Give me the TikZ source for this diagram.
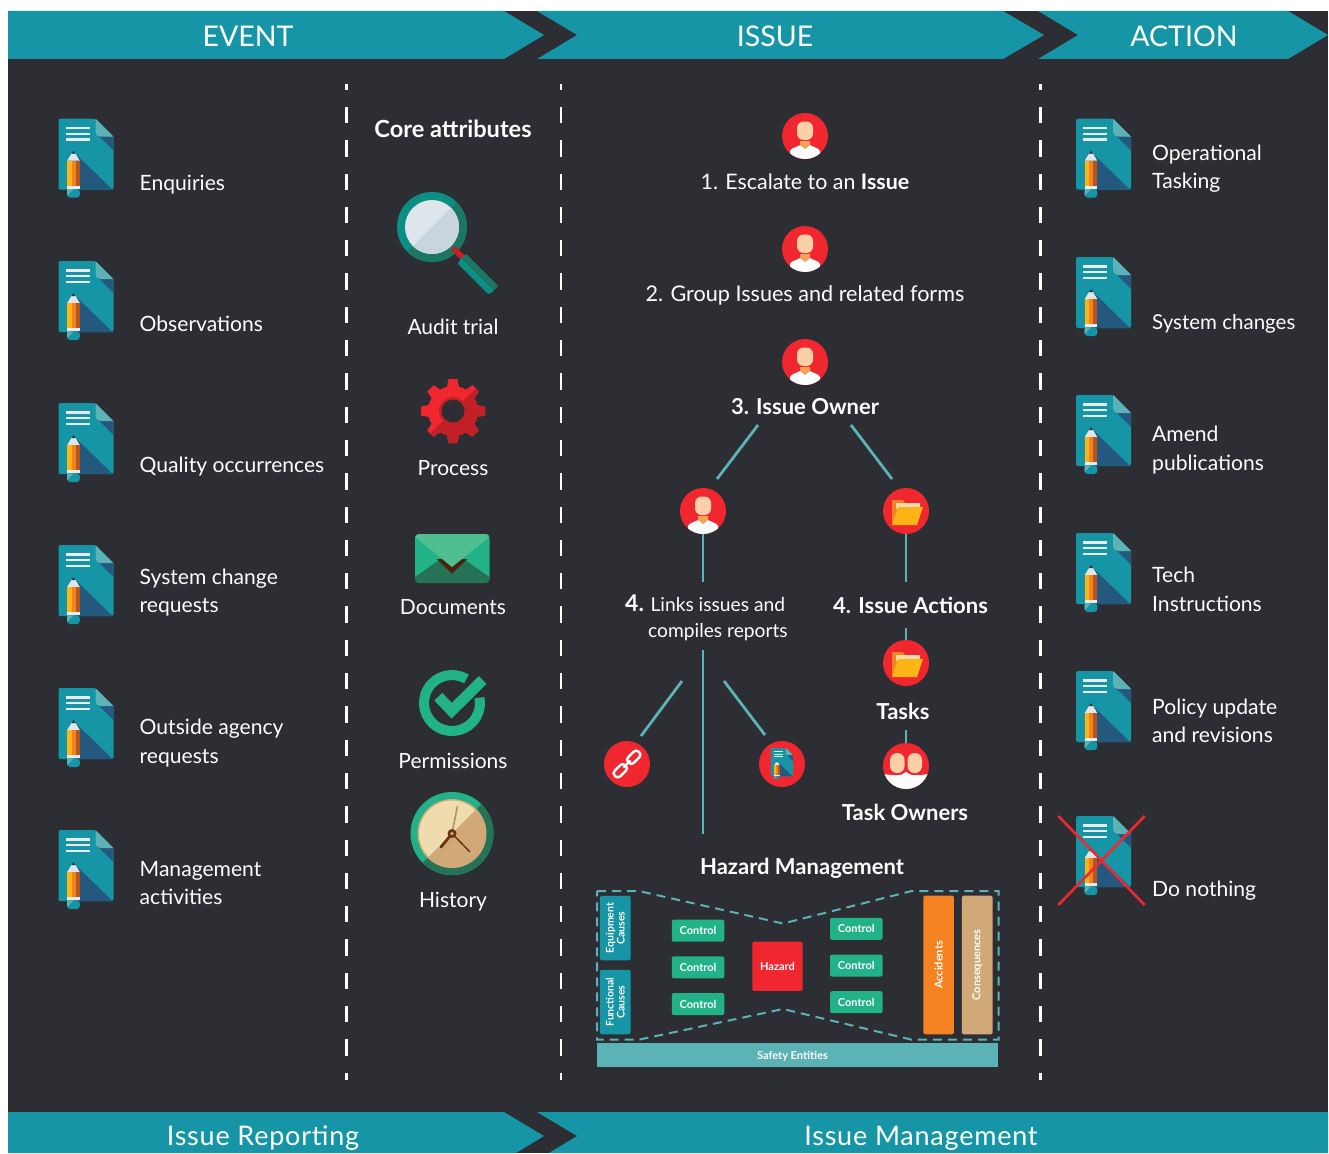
\documentclass[tikz,border=0pt]{standalone}
\usepackage{fontspec}
\setmainfont{Lato}
\usetikzlibrary{positioning}
\definecolor{panelbg}{HTML}{2C2E33}
\definecolor{bannerteal}{HTML}{1595A6}
\definecolor{softteal}{HTML}{5BB3B5}
\definecolor{deepblue}{HTML}{24587F}
\definecolor{alertred}{HTML}{F1272F}
\definecolor{darkred}{HTML}{C12026}
\definecolor{ctrlgreen}{HTML}{22B287}
\definecolor{darkgreen}{HTML}{267256}
\definecolor{lightgreen}{HTML}{4FBF8F}
\definecolor{sand}{HTML}{D1A877}
\definecolor{cream}{HTML}{EFDCAE}
\definecolor{pencilyel}{HTML}{FDB515}
\definecolor{pencilorg}{HTML}{F58220}
\definecolor{pencilbrn}{HTML}{B5561F}
\definecolor{skin}{HTML}{FBD0A8}
\newcommand{\bodyfont}{\fontsize{21.1}{28.4}\selectfont}
\newcommand{\gearteeth}{%
  \fill (453,411) circle (25);
  \foreach \a in {0,45,...,315}
    \fill[rotate around={\a:(453,411)}] (448.5,379) -- (457.5,379) -- (460,392) -- (446,392) -- cycle;}
\tikzset{
  banner/.style={fill=bannerteal},
  bannertext/.style={text=white,font=\fontsize{28.5}{28.5}\selectfont},
  footertext/.style={text=white,anchor=base,inner sep=0pt,font=\fontsize{27}{27}\selectfont\addfontfeature{LetterSpace=2.85}},
  sidelabel/.style={text=white,anchor=west,align=left,inner sep=0pt,font=\bodyfont},
  corelabel/.style={text=white,inner sep=0pt,font=\fontsize{21}{21}\selectfont},
  steplabel/.style={text=white,inner sep=0pt,font=\fontsize{22}{22}\selectfont\bfseries},
  plainstep/.style={text=white,inner sep=0pt,font=\fontsize{21.4}{21.4}\selectfont},
  divider/.style={white,line width=2.3pt,dash pattern=on 16.3pt off 17pt,dash phase=10.4pt},
  conn/.style={softteal,line width=2.8pt},
  redball/.style={circle,fill=alertred,minimum size=46pt,inner sep=0pt},
  ctrlbox/.style={fill=ctrlgreen,rounded corners=2pt,minimum width=52.5pt,minimum height=22pt,inner sep=0pt,text=white,font=\fontsize{11}{11}\selectfont\bfseries},
  causebox/.style={fill=bannerteal,rounded corners=2pt,minimum width=64.5pt,minimum height=30.7pt,inner sep=0pt,rotate=90,text=white,align=center,font=\fontsize{10.5}{11}\selectfont\bfseries},
  tallbox/.style={rounded corners=2pt,minimum width=138.6pt,minimum height=30.7pt,inner sep=0pt,rotate=90,text=white,font=\fontsize{11}{11}\selectfont\bfseries},
  docicon/.pic={
    \fill[bannerteal,rounded corners=2pt] (0,0) -- (37,0) -- (55,18) -- (55,71) -- (0,71) -- cycle;
    \fill[deepblue] (40,17) -- (55,18) -- (55,32) -- cycle;
    \fill[softteal] (37,0) -- (55,18) -- (42,18) .. controls (39,18) and (37,16) .. (37,13) -- cycle;
    \fill[deepblue] (18,36) -- (54,71) -- (18,71) -- cycle;
    \foreach \y in {8.3,14,19.6}
      \fill[white!92!black] (7,\y) rectangle (31,\y+2.2);
    \fill[white!85!deepblue] (8.7,42) -- (13,35) -- (17,35) -- (21.3,42) -- cycle;
    \fill[black!80] (13.2,35) -- (15,32) -- (16.8,35) -- cycle;
    \fill[pencilyel] (8.7,42) rectangle (13,67.3);
    \fill[pencilorg] (13,42) rectangle (17,67.3);
    \fill[pencilbrn] (17,42) rectangle (21.3,67.3);
    \fill[white!92!black] (8.7,67.3) rectangle (21.3,70.3);
    \fill[bannerteal,rounded corners=3pt] (8.7,70.3) -- (21.3,70.3) -- (21.3,79) -- (8.7,79) -- cycle;
    \fill[softteal] (8.7,70.3) -- (15,70.3) -- (8.7,77) -- cycle;
  },
  personicon/.pic={
    \begin{scope}
      \clip (0,0) circle (23);
      \fill[white] (-15,24) -- (-15,15) .. controls (-14,12) and (-8,11) .. (-5,9) -- (0,12) -- (5,9) .. controls (8,11) and (14,12) .. (15,15) -- (15,24) -- cycle;
      \fill[pencilorg!60!skin] (-5,5) -- (5,5) -- (5,9) -- (0,13) -- (-5,9) -- cycle;
      \fill[skin,rounded corners=6.5pt] (-8,-14.5) rectangle (8,4);
    \end{scope}
  },
  twopersonicon/.pic={
    \begin{scope}
      \clip (0,0) circle (23);
      \fill[white] (0,6) .. controls (-5,11) and (-14,9) .. (-23,8) -- (-23,24) -- (23,24) -- (23,8) .. controls (14,9) and (5,11) .. (0,6) -- cycle;
      \fill[skin,rounded corners=7pt] (-16,-13) rectangle (-1.5,7);
      \fill[skin,rounded corners=7pt] (1.5,-13) rectangle (16,7);
    \end{scope}
  },
  foldericon/.pic={
    \fill[pencilorg] (-14,-11) -- (-3,-11) -- (-1,-8) -- (14,-8) -- (14,0) -- (-14,14) -- cycle;
    \fill[cream] (-10,-8) -- (14,-8) -- (14,-2) -- (-10,-2) -- cycle;
    \fill[pencilyel] (-8,-4) -- (17,-4) -- (11,14) -- (-14,14) -- cycle;
  },
  linkicon/.pic={
    \begin{scope}[rotate=45]
      \draw[white,line width=2.4pt,rounded corners=3.6pt] (-17,-4) rectangle (-2,4);
      \draw[white,line width=2.4pt,rounded corners=3.6pt] (2,-4) rectangle (17,4);
      \draw[white,line width=2.4pt] (-5,0) -- (5,0);
    \end{scope}
  },
}
\begin{document}
\begin{tikzpicture}[x=1pt,y=-1pt]
  \useasboundingbox (0,0) rectangle (1329,1153);
  \fill[panelbg] (8,11) rectangle (1328,1153);
  % top banners
  \fill[banner] (8,11) -- (504,11) -- (544,35) -- (504,59) -- (8,59) -- cycle;
  \fill[banner] (537,11) -- (1003,11) -- (1044,35) -- (1003,59) -- (537,59) -- (577,35) -- cycle;
  \fill[banner] (1038,11) -- (1288,11) -- (1328,35) -- (1288,59) -- (1038,59) -- (1078,35) -- cycle;
  \node[bannertext] (event) at (248,36.5) {EVENT};
  \node[bannertext] (issue) at (775,36.5) {ISSUE};
  \node[bannertext] (action) at (1184,36.5) {ACTION};
  % bottom banners
  \fill[banner] (8,1112) -- (504,1112) -- (544,1136) -- (516,1153) -- (8,1153) -- cycle;
  \fill[banner] (537,1112) -- (1328,1112) -- (1328,1153) -- (549,1153) -- (577,1136) -- cycle;
  \node[footertext] (reporting) at (263,1145) {Issue Reporting};
  \node[footertext] (management) at (921,1145) {Issue Management};
  % dividers
  \draw[divider] (346.5,84) -- (346.5,1080);
  \draw[divider] (561,84) -- (561,1080);
  \draw[divider] (1040.5,84) -- (1040.5,1080);
  % event column
  \foreach \y in {118.7,261,403,545,688,830}
    \pic at (58.5,\y) {docicon};
  \node[sidelabel] (enquiries) at (139.5,185) {Enquiries};
  \node[sidelabel] (observations) at (139.5,323.5) {Observations};
  \node[sidelabel] (quality) at (139.5,467) {Quality occurrences};
  \node[sidelabel] (changereq) at (139.5,592.5) {System change\\requests};
  \node[sidelabel] (agency) at (139.5,743) {Outside agency\\requests};
  \node[sidelabel] (activities) at (139.5,883) {Management\\activities};
  % core attributes
  \node[corelabel,font=\fontsize{23.6}{23.6}\selectfont\bfseries] (core) at (453,129) {Core attributes};
  \fill[teal!70!ctrlgreen] (432,227) circle (35);
  \fill[darkgreen!70!teal] (432,227) ++(-45:35) arc (-45:135:35) -- cycle;
  \fill[darkred] (451,250) -- (455,246) -- (466,257) -- (462,261) -- cycle;
  \fill[teal!70!ctrlgreen,rounded corners=3pt] (466,254) -- (498,286) -- (489,295) -- (457,263) -- cycle;
  \fill[darkgreen!70!teal] (466,254) -- (498,286) -- (493.5,290.5) -- (461.5,258.5) -- cycle;
  \fill[white!85!deepblue] (432,227) circle (27);
  \fill[deepblue!25!white] (432,227) ++(-45:27) arc (-45:135:27) -- cycle;
  \node[corelabel] (audit) at (453,326.5) {Audit trial};
  \begin{scope}[alertred]
    \fill[alertred] (0,0) rectangle (0,0);
    \gearteeth
  \end{scope}
  \begin{scope}
    \clip (500,364) -- (500,458) -- (406,458) -- cycle;
    \begin{scope}[darkred]
      \fill[darkred] (0,0) rectangle (0,0);
      \gearteeth
    \end{scope}
  \end{scope}
  \fill[darkred] (453,411) circle (14);
  \fill[panelbg] (453,411) circle (11.5);
  \node[corelabel] (process) at (453,468) {Process};
  \begin{scope}
    \clip[rounded corners=4pt] (415,534) rectangle (489.5,583);
    \fill[ctrlgreen] (415,534) rectangle (489.5,583);
    \fill[darkgreen] (415,577) -- (452,551) -- (489.5,577) -- (489.5,583) -- (415,583) -- cycle;
    \fill[black!60!pencilbrn] (436.7,559) -- (452,573.5) -- (467.3,559) -- cycle;
    \fill[lightgreen] (415,534) -- (489.5,534) -- (489.5,537) -- (452,567) -- (415,537) -- cycle;
  \end{scope}
  \node[corelabel] (documents) at (453,607.5) {Documents};
  \draw[ctrlgreen,line width=10pt] (452,703) ++(-59:28) arc (-59:-371:28);
  \draw[ctrlgreen,line width=11pt,miter limit=10] (438.3,696.7) -- (451.7,710.7) -- (482.7,680);
  \node[corelabel] (permissions) at (453,761) {Permissions};
  \fill[ctrlgreen] (452,833.5) circle (41.5);
  \fill[darkgreen] (452,833.5) ++(-45:41.5) arc (-45:135:41.5) -- cycle;
  \fill[sand] (452,833.5) circle (34.5);
  \fill[cream] (452,833.5) ++(135:33) arc (135:315:33) -- cycle;
  \fill[sand] (452,833.5) ++(-45:33) arc (-45:135:33) -- cycle;
  \draw[sand!85!black,line width=1.5pt] (452,833.5) -- (457.5,806);
  \draw[pencilbrn!60!black,line width=1.5pt,line cap=round] (452,833.5) -- (469.5,851.5);
  \draw[pencilbrn!60!black,line width=2.8pt,line cap=round] (452,833.5) -- (441,847);
  \fill[pencilbrn!60!black] (452,833.5) circle (4.5);
  \fill[sand] (452,833.5) circle (1.8);
  \node[corelabel] (history) at (453,902) {History};
  % issue column
  \node[redball] (escalate) at (805,136) {};
  \pic at (escalate) {personicon};
  \node[plainstep] (escalatetext) at (805,181.5) {1. Escalate to an \textbf{Issue}};
  \node[redball] (group) at (805,249) {};
  \pic at (group) {personicon};
  \node[plainstep,font=\fontsize{21.6}{21.6}\selectfont] (grouptext) at (805,295) {2. Group Issues and related forms};
  \node[redball] (owner) at (805,362) {};
  \pic at (owner) {personicon};
  \node[steplabel] (ownertext) at (805,407) {3. Issue Owner};
  \node[redball] (linker) at (703,511) {};
  \pic at (linker) {personicon};
  \node[redball] (actions) at (906,511) {};
  \pic at (actions) {foldericon};
  \node[sidelabel,font=\fontsize{19.2}{26.5}\selectfont] (linkstext) at (625,618) {{\fontsize{23}{23}\selectfont\bfseries 4.} Links issues and\\\hspace{23pt}compiles reports};
  \node[steplabel] (actionstext) at (910.5,605.5) {4. Issue Actions};
  \node[redball] (tasks) at (906,663) {};
  \pic at (tasks) {foldericon};
  \node[steplabel] (taskstext) at (903,711.5) {Tasks};
  \node[redball] (taskowners) at (906,766) {};
  \pic at (taskowners) {twopersonicon};
  \node[steplabel] (ownerstext) at (905,812.5) {Task Owners};
  \node[redball] (linkball) at (627,764) {};
  \pic at (linkball) {linkicon};
  \node[redball] (docball) at (782,764) {};
  \pic[scale=.4] at (771,748) {docicon};
  % connectors
  \coordinate (ownerleft) at (758,425);
  \coordinate (ownerright) at (851,425);
  \coordinate (linkertop) at (717,479);
  \coordinate (actionstop) at (892,479);
  \coordinate (linkerend) at (703,582);
  \coordinate (actionsend) at (906,582);
  \coordinate (taskstop) at (906,628);
  \coordinate (tasksend) at (906,730);
  \coordinate (trunktop) at (703,650);
  \coordinate (trunkend) at (703,834);
  \coordinate (leftfrom) at (682,681);
  \coordinate (leftto) at (641,736);
  \coordinate (rightfrom) at (724,681);
  \coordinate (rightto) at (765,735);
  \draw[conn] (ownerleft) -- (linkertop);
  \draw[conn] (ownerright) -- (actionstop);
  \draw[conn] (linker) -- (linkerend);
  \draw[conn] (actions) -- (actionsend);
  \draw[conn] (taskstop) -- (tasks);
  \draw[conn] (tasksend) -- (taskowners);
  \draw[conn] (trunktop) -- (trunkend);
  \draw[conn] (leftfrom) -- (leftto);
  \draw[conn] (rightfrom) -- (rightto);
  % hazard management
  \node[steplabel] (hazardtitle) at (802,868) {Hazard Management};
  \draw[softteal,line width=2pt,dash pattern=on 9pt off 6pt] (597,891) -- (638.7,891) -- (783,923.5) -- (911.7,891) -- (998.7,891) -- (998.7,1039.7) -- (911.7,1039.7) -- (783,1009) -- (638.7,1039.7) -- (597,1039.7) -- cycle;
  \node[causebox] (equipment) at (615.3,928) {Equipment\\Causes};
  \node[causebox] (functional) at (615.3,1002) {Functional\\Causes};
  \node[ctrlbox] (ctrlA) at (698,930.7) {Control};
  \node[ctrlbox] (ctrlB) at (698,967.3) {Control};
  \node[ctrlbox] (ctrlC) at (698,1004) {Control};
  \node[ctrlbox] (ctrlD) at (856.3,928.8) {Control};
  \node[ctrlbox] (ctrlE) at (856.3,965.5) {Control};
  \node[ctrlbox] (ctrlF) at (856.3,1002.2) {Control};
  \node[fill=alertred,rounded corners=2pt,minimum width=50.4pt,minimum height=49.3pt,inner sep=0pt,text=white,font=\fontsize{11}{11}\selectfont\bfseries] (hazard) at (777.5,966.3) {Hazard};
  \node[tallbox,fill=pencilorg] (accidents) at (938.6,965) {Accidents};
  \node[tallbox,fill=sand] (consequences) at (977.3,965) {Consequences};
  \node[fill=softteal,minimum width=401pt,minimum height=23.7pt,inner sep=0pt] (safetybar) at (797.5,1054.9) {};
  \node[text=white,inner sep=0pt,font=\fontsize{11}{11}\selectfont\bfseries] (safetytext) at (792.5,1056.5) {Safety Entities};
  % action column
  \foreach \y in {118.7,257,395,533,671,816}
    \pic at (1076,\y) {docicon};
  \node[sidelabel] (tasking) at (1152,168.5) {Operational\\Tasking};
  \node[sidelabel,font=\fontsize{20.5}{28.4}\selectfont] (syschanges) at (1152,324) {System changes};
  \node[sidelabel] (amend) at (1152,450) {Amend\\publications};
  \node[sidelabel] (tech) at (1152,589.5) {Tech\\Instructions};
  \node[sidelabel] (policy) at (1152,721) {Policy update\\and revisions};
  \node[sidelabel] (nothing) at (1152,891) {Do nothing};
  \coordinate (crossa) at (1058.3,816);
  \coordinate (crossb) at (1144.7,905);
  \coordinate (crossc) at (1144.7,816);
  \coordinate (crossd) at (1058.3,905);
  \draw[alertred,line width=2.6pt] (crossa) -- (crossb);
  \draw[alertred,line width=2.6pt] (crossc) -- (crossd);
\end{tikzpicture}
\end{document}
